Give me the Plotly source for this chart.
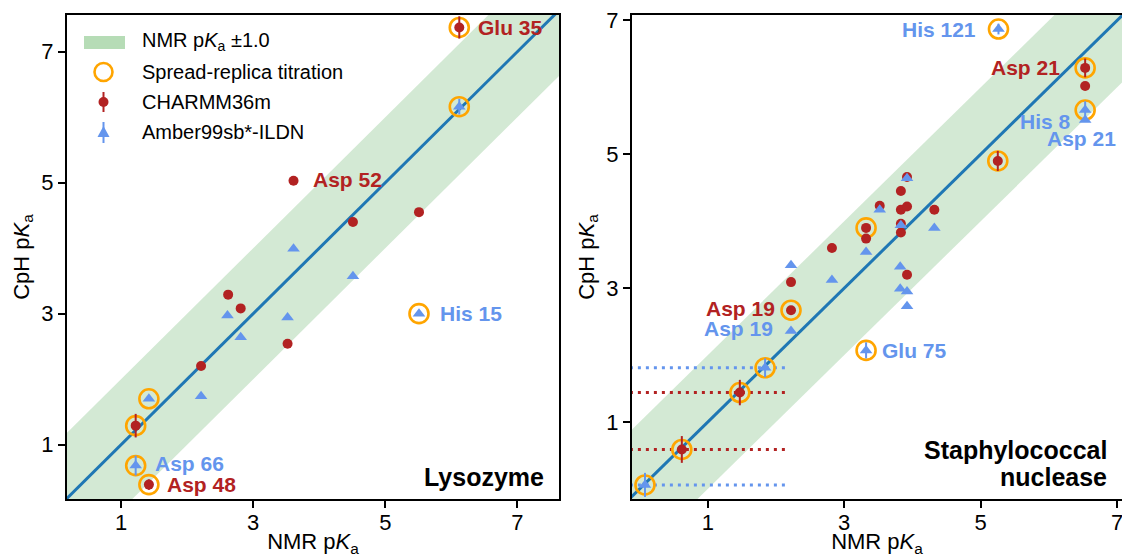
import plotly.graph_objects as go

# ---------------- Lysozyme ----------------
lys_charmm_nmr = [6.12, 3.61, 4.51, 5.51, 2.62, 2.81, 3.52, 2.21, 1.22, 1.42]
lys_charmm_cph = [7.37, 5.03, 4.40, 4.55, 3.29, 3.08, 2.54, 2.20, 1.29, 0.39]
lys_charmm_err = [0.17, 0, 0, 0, 0, 0, 0, 0, 0.18, 0.08]
lys_charmm_spread = [1, 0, 0, 0, 0, 0, 0, 0, 1, 1]
lys_charmm_below = [0, 0, 0, 0, 0, 0, 0, 0, 0, 0]

lys_amber_nmr = [6.12, 3.61, 4.51, 2.61, 3.52, 2.81, 5.51, 1.42, 2.21, 1.22]
lys_amber_cph = [6.16, 3.99, 3.57, 2.97, 2.94, 2.64, 3.00, 1.70, 1.74, 0.68]
lys_amber_err = [0.12, 0, 0, 0, 0, 0, 0, 0, 0, 0.15]
lys_amber_spread = [1, 0, 0, 0, 0, 0, 1, 1, 0, 1]
lys_amber_below = [0, 0, 0, 0, 0, 0, 0, 0, 0, 0]

# ---------------- Staphylococcal nuclease ----------------
sn_charmm_nmr = [6.53, 6.53, 5.25, 3.92, 3.83, 3.52, 3.83, 3.92, 4.32, 3.83,
                 3.83, 3.32, 3.32, 2.82, 2.22, 3.92, 2.22, 1.47, 0.62]
sn_charmm_cph = [6.29, 6.02, 4.90, 4.66, 4.45, 4.23, 4.17, 4.22, 4.17, 3.96,
                 3.83, 3.90, 3.74, 3.60, 3.09, 3.20, 2.67, 1.44, 0.59]
sn_charmm_err = [0.14, 0, 0.15, 0, 0, 0, 0, 0, 0, 0,
                 0, 0, 0, 0, 0, 0, 0, 0.19, 0.20]
sn_charmm_spread = [1, 0, 1, 0, 0, 0, 0, 0, 0, 0, 0, 1, 0, 0, 0, 0, 1, 1, 1]
sn_charmm_below = [0, 0, 0, 0, 0, 0, 0, 0, 0, 0, 0, 0, 0, 0, 0, 0, 0, 1, 1]

sn_amber_nmr = [5.26, 6.53, 6.53, 3.92, 3.52, 3.83, 4.32, 3.32, 2.22, 2.82,
                3.82, 3.82, 3.92, 3.92, 2.22, 3.32, 1.84, 0.08]
sn_amber_cph = [6.87, 5.66, 5.51, 4.64, 4.17, 3.94, 3.90, 3.54, 3.34, 3.12,
                3.32, 2.99, 2.95, 2.73, 2.36, 2.07, 1.81, 0.06]
sn_amber_err = [0.08, 0.13, 0, 0, 0, 0, 0, 0, 0, 0,
                0, 0, 0, 0, 0, 0.12, 0.14, 0.18]
sn_amber_spread = [1, 1, 0, 0, 0, 0, 0, 0, 0, 0, 0, 0, 0, 0, 0, 1, 1, 1]
sn_amber_below = [0, 0, 0, 0, 0, 0, 0, 0, 0, 0, 0, 0, 0, 0, 0, 0, 1, 1]

NMR_LIMIT = 2.2        # upper bound of NMR pKa for undetermined residues
BAND = 1.0             # +/- tolerance band around y = x

tick_vals = [1, 3, 5, 7]

# residue labels: (panel, series, index, text)
labels = [
    ("lys", "charmm", 0, "Glu 35"),
    ("lys", "charmm", 1, "Asp 52"),
    ("lys", "amber", 6, "His 15"),
    ("lys", "amber", 9, "Asp 66"),
    ("lys", "charmm", 9, "Asp 48"),
    ("sn", "amber", 0, "His 121"),
    ("sn", "charmm", 0, "Asp 21"),
    ("sn", "amber", 1, "His 8"),
    ("sn", "amber", 2, "Asp 21"),
    ("sn", "charmm", 16, "Asp 19"),
    ("sn", "amber", 14, "Asp 19"),
    ("sn", "amber", 15, "Glu 75"),
]
# label placement: (xanchor, xshift, yshift) in pixels
label_place = [
    ("left", 17, 0), ("left", 17, 1), ("left", 19, 0), ("left", 17, 2),
    ("left", 16, 0), ("right", -20, 0), ("right", -23, 0), ("right", -12, -11),
    ("right", 33, -18), ("right", -14, 2), ("right", -16, 2), ("left", 14, 0),
]

RED = "#b22222"
BLUE = "#6495ed"
ORANGE = "#ffa500"
LINE = "#1f77b4"
BAND_COLOR = "#d3e9d4"
FONT = "Liberation Sans, Arial, Helvetica, sans-serif"

W, H = 1122, 557
ML, MR, MT, MB = 67, 0, 15, 58
PW, PH = W - ML - MR, H - MT - MB


def px_x(px):
    return (px - ML) / PW


def px_y(py):
    return (H - MB - py) / PH


panels = {
    "lys": dict(xa="x", ya="y", xr=[0.18, 7.63], yr=[0.17, 7.56],
                data={"charmm": (lys_charmm_nmr, lys_charmm_cph, lys_charmm_err,
                                 lys_charmm_spread, lys_charmm_below),
                      "amber": (lys_amber_nmr, lys_amber_cph, lys_amber_err,
                                lys_amber_spread, lys_amber_below)}),
    "sn": dict(xa="x2", ya="y2", xr=[-0.11, 7.07], yr=[-0.15, 7.08],
               data={"charmm": (sn_charmm_nmr, sn_charmm_cph, sn_charmm_err,
                                sn_charmm_spread, sn_charmm_below),
                     "amber": (sn_amber_nmr, sn_amber_cph, sn_amber_err,
                               sn_amber_spread, sn_amber_below)}),
}
series_color = {"charmm": RED, "amber": BLUE}

fig = go.Figure()

for key, p in panels.items():
    xa, ya = p["xa"], p["ya"]
    lo, hi = -2.0, 10.0
    # tolerance band
    fig.add_trace(go.Scatter(
        x=[lo, hi, hi, lo], y=[lo - BAND, hi - BAND, hi + BAND, lo + BAND],
        fill="toself", fillcolor=BAND_COLOR, mode="none",
        xaxis=xa, yaxis=ya, hoverinfo="skip"))
    # identity line
    fig.add_trace(go.Scatter(
        x=[lo, hi], y=[lo, hi], mode="lines",
        line=dict(color=LINE, width=3), xaxis=xa, yaxis=ya, hoverinfo="skip"))
    # dotted ranges for residues with NMR pKa below the limit
    for s in ("charmm", "amber"):
        nmr, cph, err, spread, below = p["data"][s]
        for i in range(len(nmr)):
            if below[i]:
                fig.add_trace(go.Scatter(
                    x=[p["xr"][0] - 0.5, NMR_LIMIT], y=[cph[i], cph[i]],
                    mode="lines",
                    line=dict(color=series_color[s], width=3, dash="3px,5px"),
                    xaxis=xa, yaxis=ya, hoverinfo="skip"))
    # spread-replica rings
    rx, ry = [], []
    for s in ("charmm", "amber"):
        nmr, cph, err, spread, below = p["data"][s]
        for i in range(len(nmr)):
            if spread[i]:
                rx.append(nmr[i])
                ry.append(cph[i])
    fig.add_trace(go.Scatter(
        x=rx, y=ry, mode="markers", cliponaxis=False,
        marker=dict(symbol="circle-open", size=19, color=ORANGE,
                    line=dict(width=2.6, color=ORANGE)),
        xaxis=xa, yaxis=ya))
    # CHARMM36m points
    nmr, cph, err, spread, below = p["data"]["charmm"]
    fig.add_trace(go.Scatter(
        x=nmr, y=cph, mode="markers", cliponaxis=False,
        marker=dict(symbol="circle", size=10, color=RED, line=dict(width=0)),
        error_y=dict(type="data", array=err, visible=True, color=RED,
                     thickness=2, width=0),
        xaxis=xa, yaxis=ya))
    # Amber99sb*-ILDN points
    nmr, cph, err, spread, below = p["data"]["amber"]
    fig.add_trace(go.Scatter(
        x=nmr, y=cph, mode="markers", cliponaxis=False,
        marker=dict(symbol="triangle-up", size=11, color=BLUE, line=dict(width=0)),
        error_y=dict(type="data", array=err, visible=True, color=BLUE,
                     thickness=2, width=0),
        xaxis=xa, yaxis=ya))

annotations = []
for (key, s, i, text), (anc, dx, dy) in zip(labels, label_place):
    p = panels[key]
    nmr, cph = p["data"][s][0], p["data"][s][1]
    annotations.append(dict(
        x=nmr[i], y=cph[i], xref=p["xa"], yref=p["ya"], text=text,
        showarrow=False, xanchor=anc, yanchor="middle", xshift=dx, yshift=dy,
        font=dict(family=FONT, size=21, color=series_color[s], weight="bold")))

# panel titles
annotations += [
    dict(x=px_x(546), y=px_y(477), xref="paper", yref="paper", text="Lysozyme",
         showarrow=False, xanchor="right", yanchor="middle",
         font=dict(family=FONT, size=25, color="black", weight="bold")),
    dict(x=px_x(1109), y=px_y(450), xref="paper", yref="paper",
         text="Staphylococcal", showarrow=False, xanchor="right", yanchor="middle",
         font=dict(family=FONT, size=25, color="black", weight="bold")),
    dict(x=px_x(1109), y=px_y(477), xref="paper", yref="paper",
         text="nuclease", showarrow=False, xanchor="right", yanchor="middle",
         font=dict(family=FONT, size=25, color="black", weight="bold")),
]

# legend (drawn by hand so the error-bar glyphs show)
legend_text = ["NMR p<i>K</i><sub>a</sub> ±1.0", "Spread-replica titration",
               "CHARMM36m", "Amber99sb*-ILDN"]
leg_y = [42, 72, 102, 132]
leg_sym_x = 103.5
leg_text_x = 140
shapes = []
shapes.append(dict(type="rect", xref="paper", yref="paper",
                   x0=px_x(84), x1=px_x(125), y0=px_y(49), y1=px_y(36),
                   fillcolor="#b6dcb6", line=dict(width=0), layer="above"))
shapes.append(dict(type="circle", xref="paper", yref="paper",
                   xsizemode="pixel", ysizemode="pixel",
                   xanchor=px_x(leg_sym_x), yanchor=px_y(leg_y[1]),
                   x0=-9, x1=9, y0=-9, y1=9,
                   line=dict(color=ORANGE, width=2.6), layer="above"))
shapes.append(dict(type="line", xref="paper", yref="paper",
                   x0=px_x(leg_sym_x), x1=px_x(leg_sym_x),
                   y0=px_y(leg_y[2] - 10), y1=px_y(leg_y[2] + 10),
                   line=dict(color=RED, width=2), layer="above"))
shapes.append(dict(type="circle", xref="paper", yref="paper",
                   xsizemode="pixel", ysizemode="pixel",
                   xanchor=px_x(leg_sym_x), yanchor=px_y(leg_y[2]),
                   x0=-5, x1=5, y0=-5, y1=5,
                   fillcolor=RED, line=dict(width=0), layer="above"))
shapes.append(dict(type="line", xref="paper", yref="paper",
                   x0=px_x(leg_sym_x), x1=px_x(leg_sym_x),
                   y0=px_y(leg_y[3] - 10), y1=px_y(leg_y[3] + 11),
                   line=dict(color=BLUE, width=2), layer="above"))
shapes.append(dict(type="path", xref="paper", yref="paper",
                   xsizemode="pixel", ysizemode="pixel",
                   xanchor=px_x(leg_sym_x), yanchor=px_y(leg_y[3]),
                   path="M -6,-5 L 6,-5 L 0,6 Z",
                   fillcolor=BLUE, line=dict(width=0), layer="above"))
for t, yy in zip(legend_text, leg_y):
    annotations.append(dict(
        x=px_x(leg_text_x), y=px_y(yy), xref="paper", yref="paper", text=t,
        showarrow=False, xanchor="left", yanchor="middle",
        font=dict(family=FONT, size=20, color="black")))

axis_common = dict(
    tickvals=tick_vals, ticks="outside", ticklen=7, tickwidth=1.5,
    tickcolor="black", showgrid=False, zeroline=False, showline=True,
    linecolor="black", linewidth=2, ticklabeloverflow="allow",
    tickfont=dict(family=FONT, size=22, color="black"),
)
xtitle = dict(text="NMR p<i>K</i><sub>a</sub>",
              font=dict(family=FONT, size=22, color="black"), standoff=2)
ytitle = dict(text="CpH p<i>K</i><sub>a</sub>",
              font=dict(family=FONT, size=22, color="black"), standoff=6)

fig.update_layout(
    width=W, height=H,
    margin=dict(l=ML, r=MR, t=MT, b=MB),
    paper_bgcolor="white", plot_bgcolor="white",
    showlegend=False,
    font=dict(family=FONT),
    xaxis=dict(domain=[0, px_x(559)], range=panels["lys"]["xr"], mirror=True,
               title=xtitle, anchor="y", ticklabelstandoff=-4, **axis_common),
    yaxis=dict(domain=[0, 1], range=panels["lys"]["yr"], mirror=True,
               title=ytitle, anchor="x", **axis_common),
    xaxis2=dict(domain=[px_x(632), 1], range=panels["sn"]["xr"], mirror=True,
                title=xtitle, anchor="y2", ticklabelstandoff=-4, **axis_common),
    yaxis2=dict(domain=[0, 1], range=panels["sn"]["yr"], mirror=False,
                title=ytitle, anchor="x2", **axis_common),
    annotations=annotations,
    shapes=shapes,
)

fig.write_html("out.html")
